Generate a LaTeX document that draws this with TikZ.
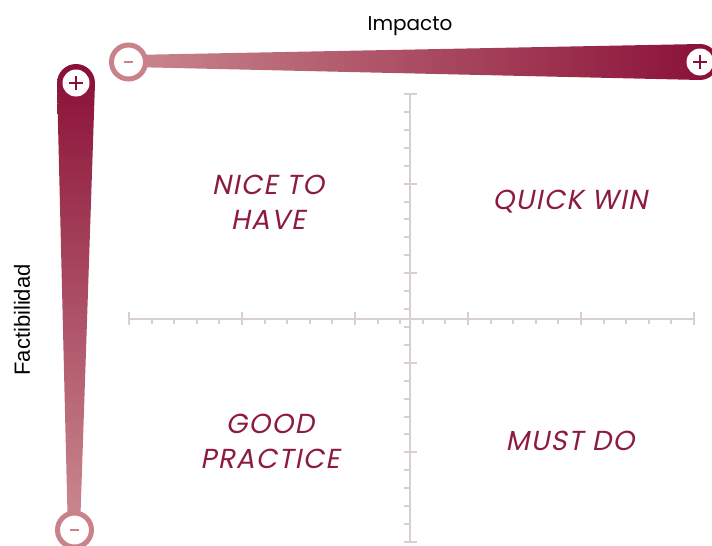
\documentclass[tikz,border=0pt]{standalone}
\usepackage{fontspec}
\setmainfont{Poppins}
\newfontfamily\arialf{Liberation Sans}
\newfontfamily\quadf[FakeSlant=0.2, LetterSpace=5]{Poppins}
\definecolor{darkc}{HTML}{8A0F36}
\definecolor{lightc}{HTML}{C9878E}
\definecolor{ringc}{HTML}{C98289}
\definecolor{axisc}{HTML}{D7CFD2}
\definecolor{txtc}{HTML}{8C1A42}
\tikzset{
  axisline/.style={draw=axisc, line width=2pt},
  ringnode/.style={circle, draw=ringc, line width=5pt, fill=white, minimum size=34pt, inner sep=0pt},
  plusnode/.style={circle, fill=white, minimum size=27pt, inner sep=0pt},
  signline/.style={line width=2pt},
  quadlabel/.style={text=txtc, font=\quadf\fontsize{27.5}{35}\selectfont, align=center},
}
\begin{document}
\begin{tikzpicture}[x=1pt,y=-1pt]
\useasboundingbox (0,0) rectangle (712,546);
% axes
\draw[axisline] (129,319) -- (694,319);
\foreach \k in {0,...,5} \draw[axisline] ({129+113*\k},312) -- ({129+113*\k},325);
\foreach \k in {1,...,24} {
  \pgfmathtruncatemacro{\r}{mod(\k,5)}
  \ifnum\r>0 \draw[axisline] ({129+22.6*\k},319) -- ({129+22.6*\k},324); \fi
}
\draw[axisline] (410,94) -- (410,542);
\foreach \k in {0,...,5} \draw[axisline] (404,{94+89.6*\k}) -- (417,{94+89.6*\k});
\foreach \k in {1,...,24} {
  \pgfmathtruncatemacro{\r}{mod(\k,5)}
  \ifnum\r>0 \draw[axisline] (404,{94+17.92*\k}) -- (410,{94+17.92*\k}); \fi
}
% horizontal wedge
\shade[left color=lightc, right color=darkc] (130,55) -- (700,44) arc[start angle=-90,end angle=90,radius=18] -- (130,67) -- cycle;
% vertical wedge
\shade[top color=darkc, bottom color=lightc] (57,83) arc[start angle=180,end angle=360,radius=19] -- (80.5,515) -- (67.5,515) -- cycle;
% end markers
\node[ringnode] (hmin) at (128.5,62) {};
\node[ringnode] (vmin) at (74.5,530) {};
\node[plusnode] (hplus) at (700,62) {};
\node[plusnode] (vplus) at (76,83) {};
\draw[signline, ringc] (hmin.center) +(-4.5,0) -- +(4.5,0);
\draw[signline, ringc] (vmin.center) +(-4.5,0) -- +(4.5,0);
\draw[signline, darkc] (hplus.center) +(-7,0) -- +(7,0);
\draw[signline, darkc] (hplus.center) +(0,-7) -- +(0,7);
\draw[signline, darkc] (vplus.center) +(-7,0) -- +(7,0);
\draw[signline, darkc] (vplus.center) +(0,-7) -- +(0,7);
% labels
\node[font=\fontsize{20}{23}\selectfont] (imp) at (410,26) {Impacto};
\node[font=\arialf\fontsize{22}{26}\selectfont, rotate=90] (fact) at (22,320) {Factibilidad};
\node[quadlabel] (nice) at (268,202) {NICE TO\\HAVE};
\node[quadlabel] (quick) at (570,202) {QUICK WIN};
\node[quadlabel] (good) at (270,441) {GOOD\\PRACTICE};
\node[quadlabel] (must) at (570,441) {MUST DO};
\end{tikzpicture}
\end{document}
